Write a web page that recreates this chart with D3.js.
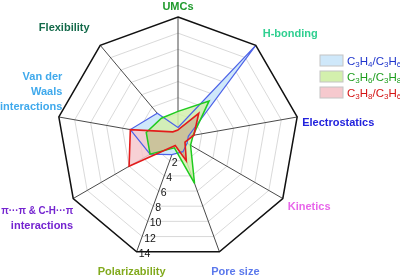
<!DOCTYPE html>
<html lang="en">
<head>
  <meta charset="UTF-8">
  <title>Separation factors radar</title>
  <script src="https://d3js.org/d3.v7.min.js"></script>
  <style>
    body {
      margin: 0;
      background: #fff;
      font-family: "Liberation Sans", Arial, sans-serif;
    }
    #chart {
      display: block;
    }
  </style>
</head>
<body>
  <svg id="chart" width="400" height="278"></svg>

  <script>
    // categories, clockwise from the top
    const axes = [
      "UMCs",
      "H-bonding",
      "Electrostatics",
      "Kinetics",
      "Pore size",
      "Polarizability",
      "π···π & C-H···π|interactions",
      "Van der|Waals|interactions",
      "Flexibility"
    ];
    const ticks = [2, 4, 6, 8, 10, 12, 14];

    // series values, same order as axes
    const c3h4c3h6 = [0.3, 14, 0.3, 0.3, 0.8, 1.2, 3, 5, 3];
    const c3h6c3h8 = [2.3, 5, 0.9, 0.8, 5, 0.3, 3, 3, 2.2];
    const c3h8c3h6 = [0, 3, 1, 0, 2, 0, 6, 5, 0];

    const seriesNames = [
      [["C", ""], ["3", "sub"], ["H", ""], ["4", "sub"], ["/C", ""], ["3", "sub"], ["H", ""], ["6", "sub"]],
      [["C", ""], ["3", "sub"], ["H", ""], ["6", "sub"], ["/C", ""], ["3", "sub"], ["H", ""], ["8", "sub"]],
      [["C", ""], ["3", "sub"], ["H", ""], ["8", "sub"], ["/C", ""], ["3", "sub"], ["H", ""], ["6", "sub"]]
    ];

    const series = [
      { values: c3h4c3h6, fill: "#cfe8fa", stroke: "#4d62e8", width: 1.2, text: "#1f35cc", name: seriesNames[0] },
      { values: c3h6c3h8, fill: "#d3f0ad", stroke: "#1fcb1f", width: 1.5, text: "#1e9e1e", name: seriesNames[1] },
      { values: c3h8c3h6, fill: "#f6c9ce", stroke: "#e31b1b", width: 1.6, text: "#d41414", name: seriesNames[2] }
    ];

    // label look and placement relative to each outer vertex
    const labelStyle = [
      { color: "#1f9a2c", dx: 0, dy: -10, anchor: "middle" },
      { color: "#2fcf90", dx: 7, dy: -11, anchor: "start" },
      { color: "#2222dd", dx: 5, dy: 6, anchor: "start" },
      { color: "#e866ea", dx: 5, dy: 8, anchor: "start" },
      { color: "#5b78ec", dx: 16, dy: 20, anchor: "middle" },
      { color: "#82aa1e", dx: -5, dy: 20, anchor: "middle" },
      { color: "#7424d0", dx: 0, dy: 12, anchor: "end", fit: 72 },
      { color: "#3fa9ec", dx: 3.5, dy: -40, anchor: "end" },
      { color: "#146a4a", dx: -36, dy: -17, anchor: "middle" }
    ];

    const width = 400;
    const height = 278;
    const cx = 178;
    const cy = 138;
    const R = 121;
    const n = axes.length;

    const svg = d3.select("#chart");
    svg.append("rect").attr("width", width).attr("height", height).attr("fill", "#fff");

    const r = d3.scaleLinear().domain([-1, 14]).range([0, R]);
    const angle = (i) => (i * 2 * Math.PI) / n;
    const pt = (i, v) => [Math.sin(angle(i)) * r(v), -Math.cos(angle(i)) * r(v)];

    const radial = d3
      .lineRadial()
      .angle((d, i) => angle(i))
      .radius((d) => r(d))
      .curve(d3.curveLinearClosed);

    const g = svg.append("g").attr("transform", `translate(${cx},${cy})`);

    // grid rings
    g.selectAll(".ring")
      .data(ticks.slice(0, -1))
      .enter()
      .append("path")
      .attr("class", "ring")
      .attr("d", (t) => radial(axes.map(() => t)))
      .attr("fill", "none")
      .attr("stroke", "#cfcfcf")
      .attr("stroke-width", 0.8);

    // spokes
    g.selectAll(".spoke")
      .data(axes)
      .enter()
      .append("line")
      .attr("x1", 0)
      .attr("y1", 0)
      .attr("x2", (d, i) => pt(i, 14)[0])
      .attr("y2", (d, i) => pt(i, 14)[1])
      .attr("stroke", "#4a4a4a")
      .attr("stroke-width", 1);

    // series areas: blue underneath, green and red multiplied on top
    g.append("path")
      .attr("d", radial(series[0].values))
      .attr("fill", series[0].fill);

    const overLayer = g.append("g").style("isolation", "isolate").attr("opacity", 0.85);
    overLayer.selectAll(".area")
      .data(series.slice(1))
      .enter()
      .append("path")
      .attr("class", "area")
      .attr("d", (s) => radial(s.values))
      .attr("fill", (s) => s.fill)
      .style("mix-blend-mode", "multiply");

    g.selectAll(".outline")
      .data(series)
      .enter()
      .append("path")
      .attr("class", "outline")
      .attr("d", (s) => radial(s.values))
      .attr("fill", "none")
      .attr("stroke", (s) => s.stroke)
      .attr("stroke-width", (s) => s.width)
      .attr("stroke-linejoin", "miter");

    // outer frame
    g.append("path")
      .attr("d", radial(axes.map(() => 14)))
      .attr("fill", "none")
      .attr("stroke", "#111")
      .attr("stroke-width", 1.5);

    // tick labels along the Polarizability spoke
    g.selectAll(".tick")
      .data(ticks)
      .enter()
      .append("text")
      .attr("x", (t) => pt(5, t)[0] + 2)
      .attr("y", (t) => pt(5, t)[1] + 5)
      .attr("font-size", 10.5)
      .attr("fill", "#111")
      .text((t) => t);

    // category labels
    axes.forEach((name, i) => {
      const p = pt(i, 14);
      const st = labelStyle[i];
      const txt = g
        .append("text")
        .attr("x", p[0] + st.dx)
        .attr("y", p[1] + st.dy)
        .attr("text-anchor", st.anchor)
        .attr("dominant-baseline", "middle")
        .attr("font-size", 11)
        .attr("font-weight", "bold")
        .attr("fill", st.color);
      name.split("|").forEach((line, k) => {
        const sp = txt.append("tspan")
          .attr("x", p[0] + st.dx)
          .attr("dy", k === 0 ? 0 : 15)
          .text(line);
        if (k === 0 && st.fit) sp.attr("textLength", st.fit).attr("lengthAdjust", "spacingAndGlyphs");
      });
    });

    // legend
    const legend = svg.append("g").attr("transform", "translate(320,55)");
    const rows = legend
      .selectAll(".row")
      .data(series)
      .enter()
      .append("g")
      .attr("transform", (d, i) => `translate(0,${i * 16})`);

    rows.append("rect")
      .attr("width", 23)
      .attr("height", 11)
      .attr("fill", (d) => d.fill)
      .attr("stroke", "#c4c4c4")
      .attr("stroke-width", 1);

    const label = rows
      .append("text")
      .attr("x", 27)
      .attr("y", 10)
      .attr("font-size", 11.5)
      .attr("fill", (d) => d.text);

    label.each(function (d) {
      const t = d3.select(this);
      d.name.forEach(([s, kind]) => {
        const sp = t.append("tspan").text(s);
        if (kind === "sub") sp.attr("font-size", 8).attr("baseline-shift", "-25%");
      });
    });
  </script>
</body>
</html>
